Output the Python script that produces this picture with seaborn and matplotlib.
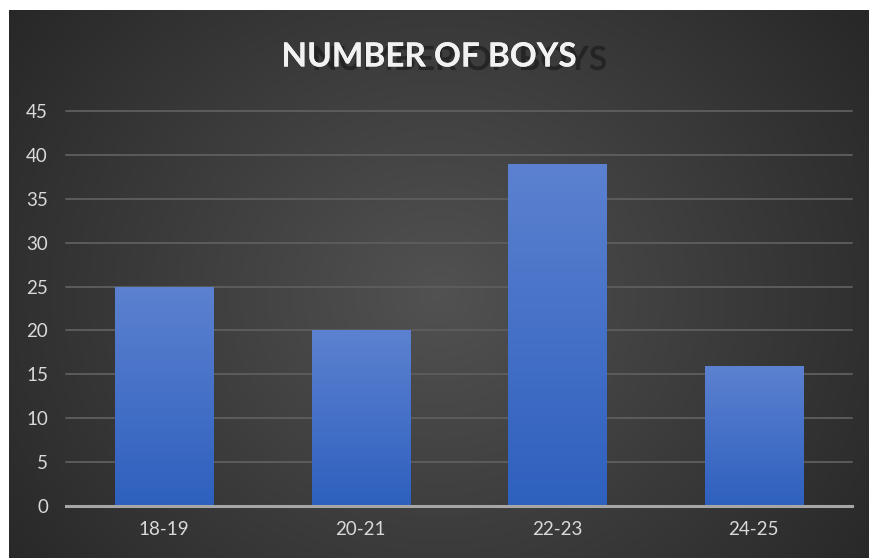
import numpy as np
import matplotlib
matplotlib.use("Agg")
import matplotlib.pyplot as plt
import matplotlib.patheffects as pe
import seaborn as sns
import pandas as pd

# Age groups and number of boys in each
age_groups = ["18-19", "20-21", "22-23", "24-25"]
boys = [25, 20, 39, 16]
y_ticks = [0, 5, 10, 15, 20, 25, 30, 35, 40, 45]
title = "NUMBER OF BOYS"

df = pd.DataFrame({"age": age_groups, "boys": boys})

sns.set_theme(style="dark")
plt.rcParams["font.family"] = ["Lato", "DejaVu Sans"]

W, H = 869, 558
fig = plt.figure(figsize=(W / 100, H / 100), dpi=100, facecolor="white")

# Dark panel with a soft radial glow
bg = fig.add_axes([9 / W, 0, (W - 9) / W, (H - 10) / H])
bg.set_axis_off()
ny, nx = 300, 480
yy, xx = np.mgrid[0:1:ny * 1j, 0:1:nx * 1j]
r = np.sqrt(((xx - 0.50) / 0.64) ** 2 + ((yy - 0.52) / 0.9) ** 2)
light = np.clip(1 - r, 0, 1) ** 1.0
val = 0.15 + 0.17 * light
img = np.dstack([val, val, val])
bg.imshow(img, aspect="auto", extent=[0, 1, 0, 1], interpolation="bicubic")
bg.set_xlim(0, 1)
bg.set_ylim(0, 1)

ax = fig.add_axes([66 / W, 1 - 506 / H, (852 - 66) / W, (506 - 111) / H])
ax.patch.set_alpha(0)

sns.barplot(data=df, x="age", y="boys", color="#3f6cc9", width=0.5,
            saturation=1, ax=ax, zorder=3)

# Vertical gradient on every bar
grad = np.linspace(0, 1, 256).reshape(-1, 1)
top_c = np.array([0x5c, 0x81, 0xd0]) / 255
bot_c = np.array([0x2e, 0x60, 0xbe]) / 255
gimg = (bot_c[None, None, :] * (1 - grad[..., None]) + top_c[None, None, :] * grad[..., None])
for p in ax.patches:
    x0, y0 = p.get_x(), p.get_y()
    w, h = p.get_width(), p.get_height()
    im = ax.imshow(gimg, aspect="auto", extent=[x0, x0 + w, y0, y0 + h],
                   origin="lower", zorder=4)
    im.set_clip_path(p)
    p.set_edgecolor("#2a3f66")
    p.set_linewidth(0.8)

ax.set_ylim(0, 45)
ax.set_xlim(-0.5, 3.5)
ax.set_yticks(y_ticks)
ax.set_yticklabels([str(t) for t in y_ticks])
ax.set_xlabel("")
ax.set_ylabel("")
ax.grid(axis="y", color="#5c5c5c", linewidth=1.4, zorder=0)
ax.grid(axis="x", visible=False)
for gl in ax.get_ygridlines():
    gl.set_clip_on(False)
for s in ["top", "right", "left"]:
    ax.spines[s].set_visible(False)
ax.spines["bottom"].set_color("#a6a6a6")
ax.spines["bottom"].set_linewidth(2.2)
ax.spines["bottom"].set_zorder(5)
ax.tick_params(axis="y", colors="#d9d9d9", labelsize=13.5, length=0, pad=13)
ax.tick_params(axis="x", colors="#d9d9d9", labelsize=13.5, length=0, pad=11)

# Title with a dark drop shadow offset to the right
fig.text(429 / W, 1 - 57 / H, title, ha="center", va="center", fontsize=24,
         fontweight="bold", color="#f2f2f2",
         path_effects=[pe.withSimplePatchShadow(offset=(22, -2.5),
                                                shadow_rgbFace="#1e1e1e",
                                                alpha=0.75),
                       pe.Normal()])

fig.savefig("out.png", dpi=100, facecolor="white")
